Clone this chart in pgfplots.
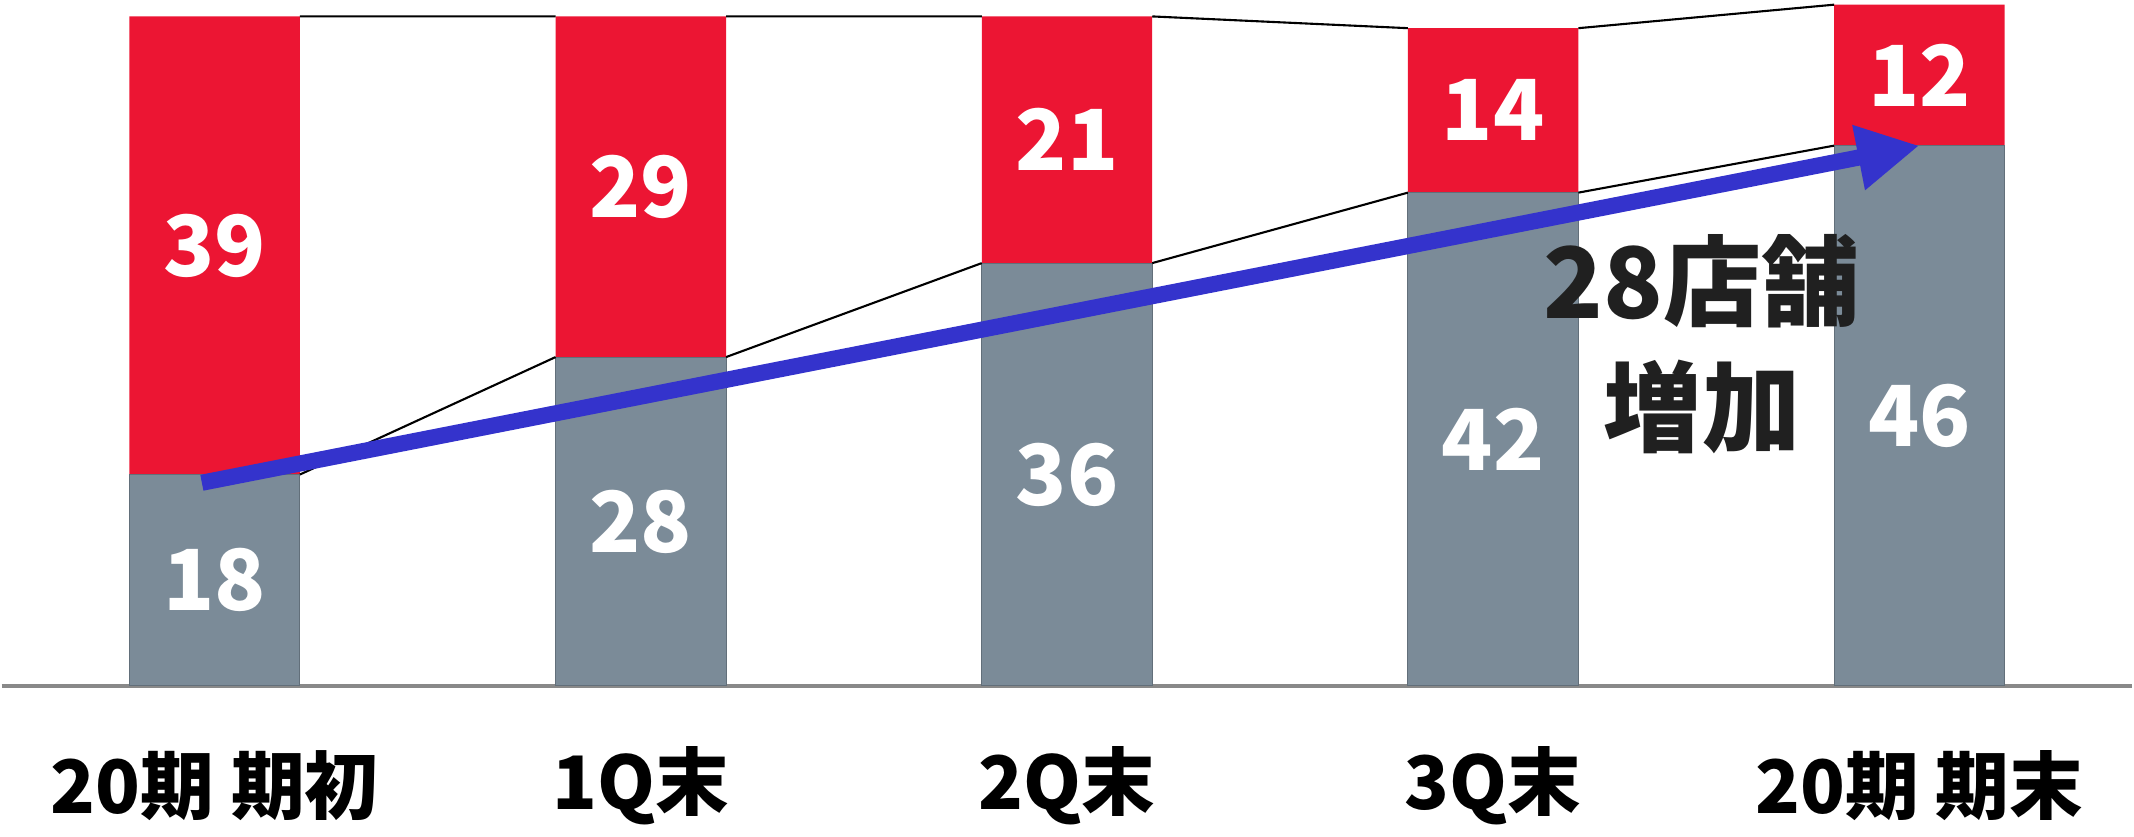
\documentclass[border=0pt]{standalone}
\usepackage{fontspec}
\setmainfont{Noto Sans CJK JP}
\usepackage{pgfplots}
\pgfplotsset{compat=1.18}
\usepackage{pgfplotstable}
\usetikzlibrary{arrows.meta}

\definecolor{barred}{RGB}{236,21,51}
\definecolor{bargray}{RGB}{123,139,152}
\definecolor{axisgray}{RGB}{137,137,137}
\definecolor{arrowblue}{RGB}{52,51,204}
\definecolor{textdark}{RGB}{32,32,32}

% stores per period: g = existing (gray), r = remaining (red)
\pgfplotstableread{
x g r
0 18 39
1 28 29
2 36 21
3 42 14
4 46 12
}\stores

\begin{document}
\begin{tikzpicture}
\begin{axis}[
    scale only axis,
    width=21.34cm, height=6.87cm,
    xmin=-0.5, xmax=4.5, ymin=0, ymax=58.4,
    axis y line=none,
    axis x line*=bottom,
    axis line style={draw=axisgray, line width=0.9pt},
    xtick={0,1,2,3,4},
    xticklabels={20期\ 期初,1Q末,2Q末,3Q末,20期\ 期末},
    major tick length=0pt,
    xticklabel style={font=\fontsize{21}{25}\selectfont\bfseries, anchor=center, yshift=-1.0cm},
    clip=false,
]
% full bars (red), then existing part (gray) on top
\addplot[ybar, bar width=0.4, bar shift=0pt, fill=barred, draw=none]
    table[x=x, y expr=\thisrow{g}+\thisrow{r}] {\stores};
\addplot[ybar, bar width=0.4, bar shift=0pt, fill=bargray, draw=bargray!80!black, line width=0.3pt]
    table[x=x, y=g] {\stores};

% series lines between bars
\addplot[black, line width=0.6pt, unbounded coords=jump] coordinates {
    (0.2,57) (0.8,57) (nan,nan) (1.2,57) (1.8,57) (nan,nan)
    (2.2,57) (2.8,56) (nan,nan) (3.2,56) (3.8,58)
};
\addplot[black, line width=0.6pt, unbounded coords=jump] coordinates {
    (0.2,18) (0.8,28) (nan,nan) (1.2,28) (1.8,36) (nan,nan)
    (2.2,36) (2.8,42) (nan,nan) (3.2,42) (3.8,46)
};

% growth arrow
\addplot[arrowblue, line width=4.6pt, -{Triangle[length=0.62cm, width=0.62cm]}]
    coordinates {(-0.03,17.3) (4.0,46.0)};

% value labels
\addplot[draw=none, mark=none, nodes near coords, point meta=explicit symbolic,
    every node near coord/.append style={anchor=center, text=white,
      font=\fontsize{24}{28}\selectfont\bfseries}]
    table[x=x, y expr=\thisrow{g}/2, meta=g] {\stores};
\addplot[draw=none, mark=none, nodes near coords, point meta=explicit symbolic,
    every node near coord/.append style={anchor=center, text=white,
      font=\fontsize{24}{28}\selectfont\bfseries}]
    table[x=x, y expr=\thisrow{g}+\thisrow{r}/2, meta=r] {\stores};

\node[font=\fontsize{28}{36}\selectfont\bfseries, text=textdark, align=center]
    at (axis cs:3.49,29.1) {28店舗\\増加};

\path (rel axis cs:0,0) ++(0,-1.47cm);
\path (rel axis cs:1,1);
\end{axis}
\end{tikzpicture}
\end{document}
